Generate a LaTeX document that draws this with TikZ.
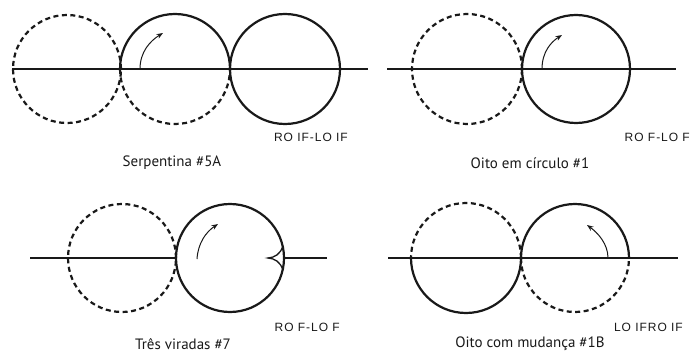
\documentclass[tikz,border=0pt]{standalone}
\usepackage{fontspec}
\usepackage{tikz}
\usetikzlibrary{arrows.meta, positioning}
\newfontfamily\titlefont{PT Sans}
\newfontfamily\edgefont[LetterSpace=8]{Liberation Sans}
\definecolor{inkblack}{rgb}{0.10,0.10,0.10}

\begin{document}
\begin{tikzpicture}[
  x=1pt, y=1pt, >=Stealth,
  trace/.style={draw=inkblack, line width=2.2pt},
  ghost/.style={trace, dash pattern=on 5pt off 3.5pt},
  turn/.style={draw=inkblack, line width=1pt,
               -{Stealth[length=6.5pt, width=5pt]}},
  edgelbl/.style={font=\edgefont\fontsize{12}{14}\selectfont,
                  text=inkblack, inner sep=0pt, anchor=east},
  figname/.style={font=\titlefont\fontsize{15}{18}\selectfont,
                  text=inkblack, inner sep=0pt}
]
  \useasboundingbox (0,0) rectangle (693,354);

  % Serpentina
  \coordinate (sA) at (67,285);
  \coordinate (sB) at (175,285);
  \coordinate (sC) at (285,285);
  \coordinate (sL) at (12,285);
  \coordinate (sR) at (368,285);
  \draw[trace] (sL) -- (sR);
  \draw[ghost] (sA) circle[radius=54];
  \draw[trace] (sB) ++(55,0) arc[start angle=0, end angle=180, radius=55];
  \draw[ghost] (sB) ++(-55,0) arc[start angle=180, end angle=360, radius=55];
  \draw[trace] (sC) circle[radius=55];
  \draw[turn] (140,285) .. controls (140,302) and (150,313) .. (163,321);
  \node[edgelbl] (sLbl) at (348,217) {RO IF-LO IF};
  \node[figname] (sName) at (172,191) {Serpentina \#5A};

  % Oito em circulo
  \coordinate (oA) at (467,285);
  \coordinate (oB) at (576,285);
  \coordinate (oL) at (387,285);
  \coordinate (oR) at (676,285);
  \draw[trace] (oL) -- (oR);
  \draw[ghost] (oA) circle[radius=55];
  \draw[trace] (oB) circle[radius=54];
  \draw[turn] (542,285) .. controls (542,302) and (551,312) .. (562,319);
  \node[edgelbl] (oLbl) at (690,217) {RO F-LO F};
  \node[figname] (oName) at (530,191) {Oito em círculo \#1};

  % Tres viradas
  \coordinate (tA) at (122,96);
  \coordinate (tB) at (230,96);
  \coordinate (tL) at (30,96);
  \coordinate (tR) at (327,96);
  \coordinate (tCusp) at (268,96);
  \draw[trace] (tL) -- (176,96);
  \draw[trace] (284,96) -- (tR);
  \draw[ghost] (tA) circle[radius=54];
  \draw[trace] (tB) circle[radius=54];
  \draw[draw=inkblack, line width=1.3pt]
    (282.6,107) .. controls (280,100) and (275,96.5) .. (tCusp)
    .. controls (275,95.5) and (280,92) .. (282.6,85);
  \draw[turn] (197,95) .. controls (198,111) and (206,122) .. (218,130);
  \node[edgelbl] (tLbl) at (340,27) {RO F-LO F};
  \node[figname] (tName) at (183,10) {Três viradas \#7};

  % Oito com mudanca
  \coordinate (mA) at (466,96);
  \coordinate (mB) at (575,96);
  \coordinate (mL) at (388,96);
  \coordinate (mR) at (678,96);
  \draw[trace] (mL) -- (mR);
  \draw[ghost] (mA) ++(55,0) arc[start angle=0, end angle=180, radius=55];
  \draw[trace] (mA) ++(-55,0) arc[start angle=180, end angle=360, radius=55];
  \draw[trace] (mB) ++(54,0) arc[start angle=0, end angle=180, radius=54];
  \draw[ghost] (mB) ++(-54,0) arc[start angle=180, end angle=360, radius=54];
  \draw[turn] (608,96) .. controls (608,110) and (598,121) .. (587,129);
  \node[edgelbl] (mLbl) at (683,27) {LO IFRO IF};
  \node[figname] (mName) at (530,10) {Oito com mudança \#1B};
\end{tikzpicture}
\end{document}
